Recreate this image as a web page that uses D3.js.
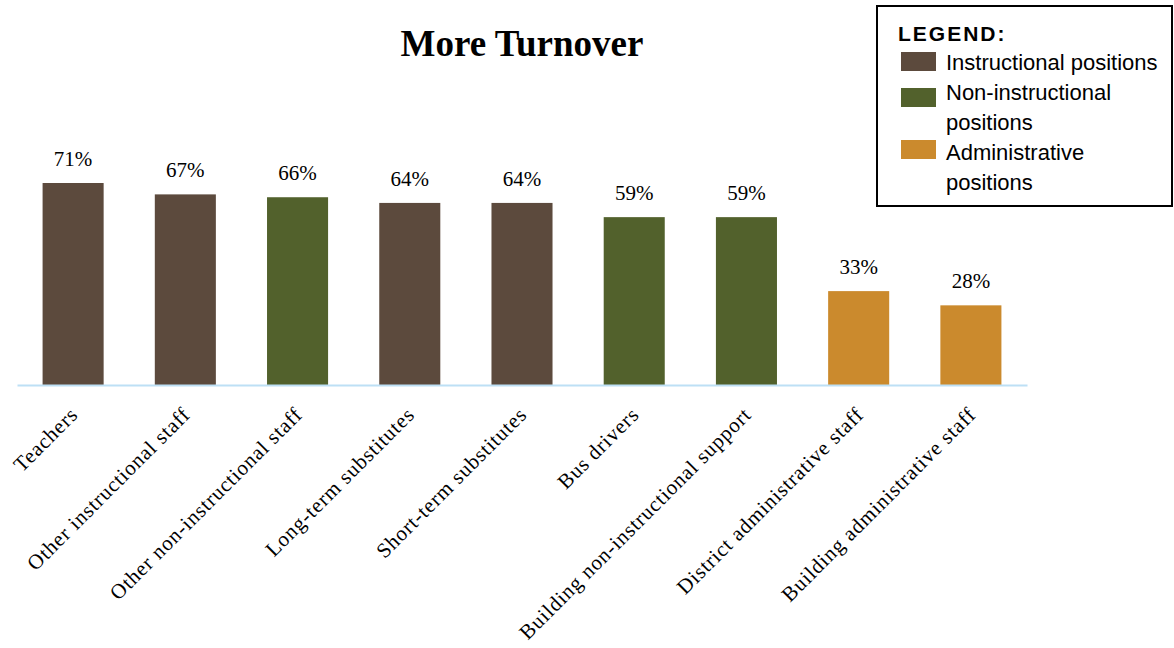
<!DOCTYPE html>
<html>
<head>
<meta charset="utf-8">
<script src="https://cdn.jsdelivr.net/npm/d3@7"></script>
<style>
  html, body { margin: 0; padding: 0; background: #fff; }
  svg { display: block; }
</style>
</head>
<body>
<svg id="chart" width="1174" height="648"></svg>
<script>
// Share of districts reporting more turnover, by position
const categories = [
  "Teachers",
  "Other instructional staff",
  "Other non-instructional staff",
  "Long-term substitutes",
  "Short-term substitutes",
  "Bus drivers",
  "Building non-instructional support",
  "District administrative staff",
  "Building administrative staff"
];
const values = [71, 67, 66, 64, 64, 59, 59, 33, 28];
const groups = [
  "Instructional positions",
  "Instructional positions",
  "Non-instructional positions",
  "Instructional positions",
  "Instructional positions",
  "Non-instructional positions",
  "Non-instructional positions",
  "Administrative positions",
  "Administrative positions"
];
const groupNames = ["Instructional positions", "Non-instructional positions", "Administrative positions"];
const groupLines = [["Instructional positions"], ["Non-instructional", "positions"], ["Administrative", "positions"]];
const groupColors = ["#5C4A3D", "#52612C", "#CB8A2D"];

const svg = d3.select("#chart");
const serif = "'Liberation Serif', 'DejaVu Serif', serif";
const sans = "'Liberation Sans', Arial, sans-serif";

const left = 17, right = 1027, baseY = 385;

const x = d3.scaleBand()
  .domain(categories)
  .range([left, right])
  .paddingInner(0.456)
  .paddingOuter(0.228);

const y = d3.scaleLinear()
  .domain([0, 100])
  .range([baseY, baseY - 284.5]);

const color = d3.scaleOrdinal().domain(groupNames).range(groupColors);

// Title
svg.append("text")
  .attr("x", 522)
  .attr("y", 56)
  .attr("text-anchor", "middle")
  .attr("font-family", serif)
  .attr("font-weight", "bold")
  .attr("font-size", 37)
  .attr("fill", "#000")
  .text("More Turnover");

// Bars
svg.append("g").selectAll("rect")
  .data(categories)
  .join("rect")
  .attr("x", d => x(d))
  .attr("width", x.bandwidth())
  .attr("y", (d, i) => y(values[i]))
  .attr("height", (d, i) => y(0) - y(values[i]))
  .attr("fill", (d, i) => color(groups[i]));

// Value labels
svg.append("g").selectAll("text")
  .data(categories)
  .join("text")
  .attr("x", d => x(d) + x.bandwidth() / 2)
  .attr("y", (d, i) => y(values[i]) - 17)
  .attr("text-anchor", "middle")
  .attr("font-family", serif)
  .attr("font-size", 21)
  .attr("fill", "#000")
  .text((d, i) => values[i] + "%");

// Category axis
const axis = d3.axisBottom(x).tickSize(0).tickPadding(0);
const gAxis = svg.append("g")
  .attr("transform", `translate(0,${baseY})`)
  .call(axis);
gAxis.select(".domain")
  .attr("stroke", "#BDE0F5")
  .attr("stroke-width", 2);
gAxis.selectAll(".tick text")
  .attr("font-family", serif)
  .attr("font-size", 21)
  .attr("letter-spacing", 0.8)
  .attr("fill", "#000")
  .attr("text-anchor", "end")
  .attr("dy", 0)
  .attr("transform", "translate(6,31) rotate(-45)");

// Legend
const lg = svg.append("g");
lg.append("rect")
  .attr("x", 877).attr("y", 6)
  .attr("width", 295).attr("height", 200)
  .attr("fill", "#fff")
  .attr("stroke", "#000")
  .attr("stroke-width", 2);
lg.append("text")
  .attr("x", 898).attr("y", 41)
  .attr("font-family", sans)
  .attr("font-weight", "bold")
  .attr("font-size", 21)
  .attr("letter-spacing", 2)
  .attr("fill", "#000")
  .text("LEGEND:");
const swatchY = [52, 88, 140];
const textY = [70, 100, 160];
groupNames.forEach((g, i) => {
  lg.append("rect")
    .attr("x", 901).attr("y", swatchY[i])
    .attr("width", 35).attr("height", 19)
    .attr("fill", groupColors[i]);
  groupLines[i].forEach((line, j) => {
    lg.append("text")
      .attr("x", 946).attr("y", textY[i] + j * 30)
      .attr("font-family", sans)
      .attr("font-size", 22)
      .attr("fill", "#000")
      .text(line);
  });
});
</script>
</body>
</html>
